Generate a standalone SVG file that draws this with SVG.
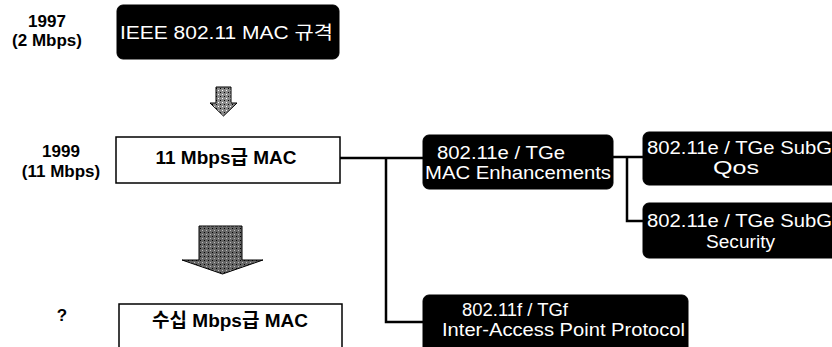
<svg xmlns="http://www.w3.org/2000/svg" width="832" height="347" viewBox="0 0 832 347">
<defs>
<style>
.lbl{font-family:"Liberation Sans","Noto Sans CJK KR",Arial,sans-serif;font-weight:bold;font-size:17px;fill:#000;text-anchor:middle}
.btxt{font-family:"Liberation Sans","Noto Sans CJK KR",Arial,sans-serif;font-weight:bold;font-size:19px;fill:#000;text-anchor:middle}
.wtxt{font-family:"Liberation Sans","Noto Sans CJK KR",Arial,sans-serif;font-size:18px;fill:#fff}
.dark{fill:#000;stroke:#000}
.white{fill:#fff;stroke:#000;stroke-width:1.5}
.conn{fill:none;stroke:#000;stroke-width:2.5}
.arrow{stroke:#000;stroke-width:1}
</style>
<pattern id="stip1" width="4" height="4" patternUnits="userSpaceOnUse">
<rect width="4" height="4" fill="#8a8a8a"/>
<rect x="0" y="0" width="1" height="1" fill="#000"/>
<rect x="2" y="2" width="1" height="1" fill="#fff"/>
</pattern>
<pattern id="stip2" width="4" height="4" patternUnits="userSpaceOnUse">
<rect width="4" height="4" fill="#666"/>
<rect x="0" y="0" width="1" height="1" fill="#000"/>
<rect x="2" y="2" width="1" height="1" fill="#bbb"/>
</pattern>
</defs>
<rect width="832" height="347" fill="#fff"/>

<g id="labels">
<text class="lbl" x="47" y="27">1997</text>
<text class="lbl" x="47" y="46">(2 Mbps)</text>
<text class="lbl" x="61" y="157">1999</text>
<text class="lbl" x="61" y="177">(11 Mbps)</text>
<text class="lbl" x="62" y="321">?</text>
</g>

<g id="connectors">
<path class="conn" d="M340 158 H423"/>
<path class="conn" d="M386 158 V322 H423"/>
<path class="conn" d="M613 157 H643"/>
<path class="conn" d="M627 157 V221 H643"/>
</g>

<g id="arrows">
<path class="arrow" fill="url(#stip1)" d="M216 87 H231 V103 H237 L223.5 116 L210 103 H216 Z"/>
<path class="arrow" fill="url(#stip2)" d="M199 226 H242 V260 H263 L222.5 274 L182 260 H199 Z"/>
</g>

<g id="node-ieee">
<rect class="dark" x="117" y="5" width="222" height="54" rx="6"/>
<text class="wtxt" x="120" y="39" font-size="19" textLength="213" lengthAdjust="spacingAndGlyphs">IEEE 802.11  MAC 규격</text>
</g>

<g id="node-11mbps">
<rect class="white" x="116" y="137" width="224" height="46"/>
<text class="btxt" x="226" y="164">11 Mbps급 MAC</text>
</g>

<g id="node-future">
<rect class="white" x="119" y="304" width="223" height="50"/>
<text class="btxt" x="230" y="327">수십 Mbps급 MAC</text>
</g>

<g id="node-tge">
<rect class="dark" x="423" y="135" width="190" height="54" rx="6"/>
<text class="wtxt" x="437" y="159" textLength="128" lengthAdjust="spacingAndGlyphs">802.11e / TGe</text>
<text class="wtxt" x="425" y="179" textLength="186" lengthAdjust="spacingAndGlyphs">MAC Enhancements</text>
</g>

<g id="node-qos">
<rect class="dark" x="643" y="132" width="200" height="53" rx="6"/>
<text class="wtxt" x="647" y="154" textLength="185" lengthAdjust="spacingAndGlyphs">802.11e / TGe SubG</text>
<text class="wtxt" x="713" y="174" textLength="46" lengthAdjust="spacingAndGlyphs">Qos</text>
</g>

<g id="node-security">
<rect class="dark" x="643" y="203" width="200" height="55" rx="6"/>
<text class="wtxt" x="647" y="227" textLength="185" lengthAdjust="spacingAndGlyphs">802.11e / TGe SubG</text>
<text class="wtxt" x="706" y="248" textLength="69" lengthAdjust="spacingAndGlyphs">Security</text>
</g>

<g id="node-tgf">
<rect class="dark" x="423" y="295" width="265" height="60" rx="6"/>
<text class="wtxt" x="462" y="316" textLength="106" lengthAdjust="spacingAndGlyphs">802.11f / TGf</text>
<text class="wtxt" x="442" y="336" textLength="243" lengthAdjust="spacingAndGlyphs">Inter-Access Point Protocol</text>
</g>
</svg>
